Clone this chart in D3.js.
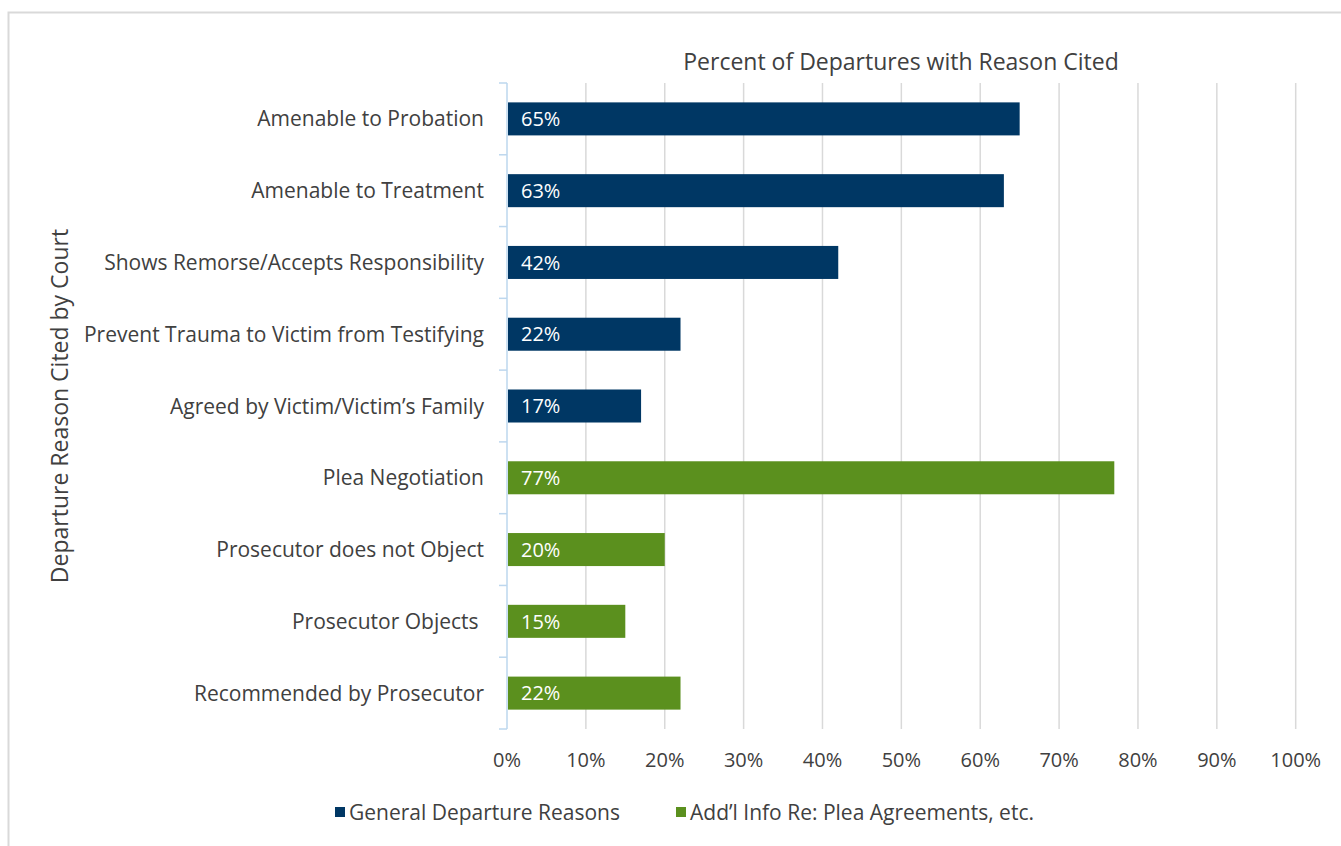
<!DOCTYPE html>
<html>
<head>
<meta charset="utf-8">
<script src="https://cdn.jsdelivr.net/npm/d3@7"></script>
<style>
    body { margin: 0; background: #fff; }
    svg text { font-family: 'Open Sans', sans-serif; fill: #404040; }
</style>
</head>
<body>
<svg width="1341" height="846"></svg>
<script>
const reasons = [
    'Amenable to Probation',
    'Amenable to Treatment',
    'Shows Remorse/Accepts Responsibility',
    'Prevent Trauma to Victim from Testifying',
    'Agreed by Victim/Victim\u2019s Family',
    'Plea Negotiation',
    'Prosecutor does not Object',
    'Prosecutor Objects ',
    'Recommended by Prosecutor'
];
const percents = [65, 63, 42, 22, 17, 77, 20, 15, 22];
const groups = ['general', 'general', 'general', 'general', 'general', 'plea', 'plea', 'plea', 'plea'];
const seriesNames = ['General Departure Reasons', 'Add\u2019l Info Re: Plea Agreements, etc.'];
const xTicks = [0, 10, 20, 30, 40, 50, 60, 70, 80, 90, 100];

function drawChart() {
    const width = 1341;
    const height = 846;
    const padding = { top: 83, right: 45, bottom: 117, left: 507 };
    const svg = d3.select('svg');

    const colorScale = d3.scaleOrdinal()
        .domain(['general', 'plea'])
        .range(['#003764', '#5b901e']);

    // chart border (right and bottom fall outside the frame)
    svg.append('rect')
        .attr('x', 8.5).attr('y', 12.5)
        .attr('width', 1400).attr('height', 900)
        .attr('fill', 'none')
        .attr('stroke', '#d9d9d9')
        .attr('stroke-width', 2);

    const xScale = d3.scaleLinear()
        .domain([0, 100])
        .range([padding.left, width - padding.right - 0.3]);

    const yScale = d3.scaleBand()
        .domain(reasons)
        .range([padding.top, height - padding.bottom])
        .paddingInner(0.54)
        .paddingOuter(0.27);

    // gridlines
    svg.append('g')
        .selectAll('line')
        .data(xTicks.slice(1))
        .join('line')
        .attr('x1', d => xScale(d))
        .attr('x2', d => xScale(d))
        .attr('y1', padding.top)
        .attr('y2', height - padding.bottom)
        .attr('stroke', '#d9d9d9')
        .attr('stroke-width', 1.5);

    // bars
    const data = reasons.map((r, i) => ({ reason: r, value: percents[i], group: groups[i] }));
    svg.selectAll('.bar')
        .data(data)
        .join('rect')
        .attr('class', 'bar')
        .attr('x', xScale(0) + 1)
        .attr('y', d => yScale(d.reason))
        .attr('width', d => xScale(d.value) - xScale(0) - 1)
        .attr('height', yScale.bandwidth())
        .attr('fill', d => colorScale(d.group));

    // bar labels
    svg.selectAll('.bar-label')
        .data(data)
        .join('text')
        .attr('class', 'bar-label')
        .attr('x', xScale(0) + 14)
        .attr('y', d => yScale(d.reason) + yScale.bandwidth() / 2)
        .attr('dy', '0.36em')
        .text(d => d.value + '%')
        .style('fill', '#ffffff')
        .style('font-size', '20px');

    // y axis: line + ticks between categories
    const yAxisG = svg.append('g');
    yAxisG.append('line')
        .attr('x1', xScale(0)).attr('x2', xScale(0))
        .attr('y1', padding.top).attr('y2', height - padding.bottom)
        .attr('stroke', '#bdd7ee').attr('stroke-width', 1.5);
    const bounds = d3.range(reasons.length + 1).map(i => padding.top + i * (height - padding.top - padding.bottom) / reasons.length);
    yAxisG.selectAll('.ytick')
        .data(bounds)
        .join('line')
        .attr('class', 'ytick')
        .attr('x1', xScale(0) - 8).attr('x2', xScale(0))
        .attr('y1', d => d).attr('y2', d => d)
        .attr('stroke', '#bdd7ee').attr('stroke-width', 1.5);

    // category labels
    svg.selectAll('.cat-label')
        .data(reasons)
        .join('text')
        .attr('class', 'cat-label')
        .attr('x', xScale(0) - 23)
        .attr('y', d => yScale(d) + yScale.bandwidth() / 2)
        .attr('dy', '0.36em')
        .attr('text-anchor', 'end')
        .style('white-space', 'pre')
        .style('font-size', '21px')
        .text(d => d);

    // x tick labels
    svg.selectAll('.x-label')
        .data(xTicks)
        .join('text')
        .attr('class', 'x-label')
        .attr('x', d => xScale(d))
        .attr('y', 760)
        .attr('dy', '0.36em')
        .attr('text-anchor', 'middle')
        .style('font-size', '20px')
        .text(d => d + '%');

    // titles
    svg.append('text')
        .text('Percent of Departures with Reason Cited')
        .attr('x', 901)
        .attr('y', 62)
        .attr('dy', '0.36em')
        .attr('text-anchor', 'middle')
        .style('font-size', '23px');
    svg.append('text')
        .text('Departure Reason Cited by Court')
        .attr('transform', 'translate(60, 406) rotate(-90)')
        .attr('dy', '0.36em')
        .attr('text-anchor', 'middle')
        .style('font-size', '23px');

    // legend
    const legendX = [335, 676];
    const legend = svg.selectAll('.legend')
        .data(seriesNames)
        .join('g')
        .attr('class', 'legend')
        .attr('transform', (d, i) => `translate(${legendX[i]}, 812)`);
    legend.append('rect')
        .attr('x', 0).attr('y', -5)
        .attr('width', 10).attr('height', 10)
        .attr('fill', (d, i) => colorScale(['general', 'plea'][i]));
    legend.append('text')
        .attr('x', 14)
        .attr('dy', '0.36em')
        .style('font-size', '21px')
        .text(d => d);
}

window.addEventListener('load', drawChart);
</script>
</body>
</html>
